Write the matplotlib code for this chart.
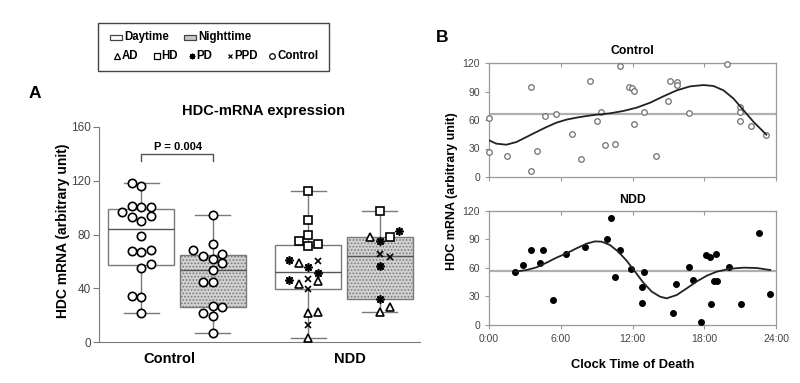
import matplotlib
matplotlib.use('Agg')
import matplotlib.pyplot as plt
from matplotlib.patches import Rectangle

plt.rcParams['font.family'] = ['Liberation Sans Narrow', 'Liberation Sans', 'DejaVu Sans']
plt.rcParams['hatch.color'] = '#8c8c8c'
plt.rcParams['hatch.linewidth'] = 0.8

# ---- panel A: box statistics (Control day, Control night, NDD day, NDD night)
box_lo = [22, 6.7, 3.2, 22.3]
box_q1 = [57.4, 26.0, 39.6, 31.9]
box_med = [83.8, 53.4, 52.4, 64.3]
box_q3 = [98.9, 65.0, 72.2, 78.4]
box_hi = [118, 94.2, 112.5, 97.4]

# individual cases, slot = column inside the box
ctrl_day_val = [118.5, 116.2, 96.4, 100.9, 100.2, 100.2, 93, 89.8, 93.7, 79.1,
                68, 67, 68.5, 58.4, 55.4, 34.4, 33.9, 22]
ctrl_day_slot = [-1, 0, -2, -1, 0, 1, -1, 0, 1, 0, -1, 0, 1, 1, 0, -1, 0, 0]

ctrl_night_val = [94.2, 68.3, 64.3, 72.7, 61.8, 65.5, 58.9, 53.4, 44.5, 44.5,
                  21.8, 27.2, 26.2, 19.5, 6.7]
ctrl_night_slot = [0, -2, -1, 0, 0, 1, 1, 0, -1, 0, -1, 0, 1, 0, 0]

ndd_day_val = [112.5, 90.8, 79.6, 74.9, 71.7, 73.2, 61.3, 58.6, 60.6, 55.9,
               51.2, 46.2, 43, 46.7, 45.7, 39.3, 22, 22.8, 12.9, 3.2]
ndd_day_slot = [0, 0, 0, -1, 0, 1, -2, -1, 1, 0, 1, -2, -1, 0, 1, 0, 0, 1, 0, 0]
ndd_day_kind = ['HD', 'HD', 'HD', 'HD', 'HD', 'HD', 'PD', 'AD', 'PPD', 'PD',
                'PD', 'PD', 'AD', 'PPD', 'AD', 'PPD', 'AD', 'AD', 'PPD', 'AD']

ndd_night_val = [97.4, 78.4, 78.4, 82.6, 75.2, 65.5, 63, 56.6, 31.9, 26.5, 22.3]
ndd_night_slot = [0, -1, 1, 2, 0, 0, 1, 0, 0, 1, 0]
ndd_night_kind = ['HD', 'AD', 'HD', 'PD', 'PD', 'PPD', 'PPD', 'PD', 'PD', 'AD', 'AD']

# ---- panel B: clock time of death (hours) vs HDC mRNA
ctrl_hour = [0.0, 0.0, 1.48, 3.49, 3.49, 4.0, 4.72, 5.64, 6.96, 7.66, 8.47, 9.0,
             9.36, 9.72, 10.5, 10.95, 11.7, 11.96, 12.1, 12.13, 12.96, 13.94,
             14.98, 15.12, 15.7, 15.7, 16.7, 19.92, 20.95, 20.95, 20.95, 21.9, 23.2]
ctrl_val = [62, 26, 21.8, 95, 6.3, 27, 64.6, 66, 45, 19.3, 101, 59,
            68.8, 34, 34.4, 117, 94.7, 93.7, 90.5, 55.8, 68, 21.8,
            79.6, 101.4, 100.4, 96.8, 67.4, 119.3, 73.7, 68.4, 59.3, 54, 44.6]
ctrl_mean = 66.7
ctrl_fit_hour = [0, 0.61, 1.45, 2.29, 3.13, 3.97, 4.81, 5.64, 6.48, 7.32, 8.16, 9.0,
                 10.11, 11.23, 12.35, 13.47, 14.58, 15.7, 16.82, 17.94, 18.77,
                 19.61, 20.45, 21.29, 22.13, 23.19]
ctrl_fit_val = [38.6, 35.1, 34.0, 36.8, 42.1, 47.4, 52.6, 57.2, 60.4, 62.5, 64.2, 65.6,
                67, 69.5, 73, 78.2, 84.9, 91.2, 95.4, 96.8, 95.8,
                91.2, 82.5, 70.2, 57.9, 44.6]

ndd_hour = [2.18, 2.82, 3.52, 4.25, 4.53, 5.36, 6.48, 7.99, 9.89, 10.17, 10.5, 10.95,
            11.85, 12.77, 12.8, 12.96, 15.37, 15.67, 16.7, 17.04, 17.74, 18.13,
            18.44, 18.58, 18.83, 19.0, 19.08, 20.03, 21.09, 22.55, 23.52]
ndd_val = [56, 62.6, 78.4, 65, 78.7, 26.6, 74.9, 82.2, 90.3, 112, 50.4, 79,
           58.4, 22.7, 39.5, 55.3, 12.9, 43, 61.2, 46.9, 3.5, 73.5,
           71.4, 21.7, 46.2, 74.9, 46.2, 60.5, 22.4, 96.9, 32.2]
ndd_mean = 56.7
ndd_fit_hour = [2.18, 3.13, 3.97, 4.81, 5.64, 6.48, 7.32, 8.16, 8.86, 9.42, 10.11,
                10.81, 11.51, 12.21, 12.91, 13.61, 14.31, 14.86, 15.7, 16.54,
                17.38, 18.22, 19.05, 20.17, 21.29, 22.41, 23.52]
ndd_fit_val = [56, 57.7, 60.5, 65.4, 70.7, 75.2, 80.5, 85.4, 87.8, 87.5, 84,
               77, 67.5, 56, 44.4, 35, 29.7, 28, 31.5, 38.5,
               45.8, 51.8, 56, 59.1, 60.2, 59.8, 57.7]

W, H = 800, 383
markers = {'AD': '^', 'HD': 's', 'PD': (8, 2, 0), 'PPD': 'x', 'Control': 'o'}
grey = '#7a7a7a'

fig = plt.figure(figsize=(W / 100, H / 100), dpi=100)

# ================= panel A =================
axA = fig.add_axes([99.3 / W, (H - 342.3) / H, 320.7 / W, 215.6 / H])
box_pos = [42, 113.3, 209, 280.4]
stats = [dict(med=m, q1=a, q3=b, whislo=lo, whishi=hi, fliers=[])
         for lo, a, m, b, hi in zip(box_lo, box_q1, box_med, box_q3, box_hi)]
bp = axA.bxp(stats, positions=box_pos, widths=66, capwidths=35, patch_artist=True,
             showfliers=False,
             whiskerprops=dict(color=grey, lw=1),
             capprops=dict(color=grey, lw=1),
             medianprops=dict(color='#555555', lw=1))
for i, box in enumerate(bp['boxes']):
    box.set_edgecolor(grey)
    box.set_linewidth(1)
    if i % 2:
        box.set_facecolor('#d2d2d2')
        box.set_hatch('.....')
    else:
        box.set_facecolor('white')

slot_w = 9.8


def draw_group(center, vals, slots, kinds):
    for v, s, k in zip(vals, slots, kinds):
        m = markers[k]
        size = {'Control': 6, 'AD': 5.5, 'HD': 5.5, 'PD': 6, 'PPD': 4}[k]
        axA.plot(center + s * slot_w, v, marker=m, ms=size,
                 mfc='black' if k == 'PD' else 'white', mec='black',
                 mew=1.2, ls='none', zorder=5)


draw_group(box_pos[0], ctrl_day_val, ctrl_day_slot, ['Control'] * len(ctrl_day_val))
draw_group(box_pos[1], ctrl_night_val, ctrl_night_slot, ['Control'] * len(ctrl_night_val))
draw_group(box_pos[2], ndd_day_val, ndd_day_slot, ndd_day_kind)
draw_group(box_pos[3], ndd_night_val, ndd_night_slot, ndd_night_kind)

# significance bracket
axA.plot([box_pos[0], box_pos[0], box_pos[1], box_pos[1]], [134.8, 139.7, 139.7, 134.8],
         color='#555555', lw=1, clip_on=False)

axA.set_xlim(0, 320.7)
axA.set_ylim(0, 160)
axA.set_yticks([0, 40, 80, 120, 160])
axA.set_xticks([])
for s in ['top', 'right']:
    axA.spines[s].set_visible(False)
for s in ['left', 'bottom']:
    axA.spines[s].set_color(grey)
axA.tick_params(axis='y', colors=grey, labelcolor='#444444', labelsize=8.5, length=4, pad=2)

# ================= panel B =================
def style_b(ax, labels):
    ax.set_xlim(0, 24)
    ax.set_ylim(0, 120)
    ax.set_xticks([0, 6, 12, 18, 24])
    ax.set_yticks([0, 30, 60, 90, 120])
    for s in ax.spines.values():
        s.set_color('#9a9a9a')
        s.set_linewidth(0.9)
    ax.tick_params(colors='#9a9a9a', labelcolor='#444444', labelsize=7.5, length=3)
    if labels:
        ax.set_xticklabels(['0:00', '6:00', '12:00', '18:00', '24:00'])
    else:
        ax.set_xticklabels([])
    top = ax.secondary_xaxis('top')
    top.set_xticks([6, 12, 18])
    top.set_xticklabels([])
    top.tick_params(direction='in', length=3, colors='#9a9a9a')
    top.spines['top'].set_color('#9a9a9a')


axC = fig.add_axes([489 / W, (H - 177) / H, 287 / W, 114 / H])
axC.axhline(ctrl_mean, color='#b0b0b0', lw=1.6, zorder=1)
axC.plot(ctrl_hour, ctrl_val, 'o', ms=4, mfc='white', mec='#707070', mew=0.9,
         clip_on=False, zorder=3)
axC.plot(ctrl_fit_hour, ctrl_fit_val, color='#222222', lw=1.3, zorder=4)
style_b(axC, False)

axN = fig.add_axes([489 / W, (H - 325) / H, 287 / W, 114.3 / H])
axN.axhline(ndd_mean, color='#b0b0b0', lw=1.6, zorder=1)
axN.plot(ndd_hour, ndd_val, 'o', ms=4, mfc='black', mec='black', clip_on=False, zorder=3)
axN.plot(ndd_fit_hour, ndd_fit_val, color='#222222', lw=1.3, zorder=4)
style_b(axN, True)

# ================= overlay: texts and legend =================
ov = fig.add_axes([0, 0, 1, 1], facecolor='none')
ov.set_xlim(0, W)
ov.set_ylim(H, 0)
ov.axis('off')

bold = dict(fontweight='bold', ha='center', va='center', color='black')
ov.text(35, 93, 'A', fontsize=12.5, **bold)
ov.text(441.7, 38, 'B', fontsize=12.5, **bold)
ov.text(264, 111, 'HDC-mRNA expression', fontsize=10.5, **bold)
ov.text(178, 146.5, 'P = 0.004', fontsize=8, **bold)
ov.text(63, 231, 'HDC mRNA (arbitrary unit)', fontsize=10, rotation=90, **bold)
ov.text(169, 359, 'Control', fontsize=10.5, **bold)
ov.text(350, 359, 'NDD', fontsize=10.5, **bold)
ov.text(632.7, 51.5, 'Control', fontsize=8.8, **bold)
ov.text(632.7, 200, 'NDD', fontsize=8.8, **bold)
ov.text(633, 365, 'Clock Time of Death', fontsize=9.3, **bold)
ov.text(452, 191, 'HDC mRNA (arbitrary unit)', fontsize=9, rotation=90, **bold)

# legend box
ov.add_patch(Rectangle((98.3, 23.3), 230.7, 47.4, fill=False, ec='#444444', lw=1))
ov.add_patch(Rectangle((110, 34.5), 12.3, 5.5, fc='white', ec='#444444', lw=0.9))
ov.add_patch(Rectangle((184.3, 34.5), 11.7, 5.5, fc='#c8c8c8', ec='#444444', lw=0.9))
leg = dict(fontweight='bold', ha='left', va='center', fontsize=8.3, color='black')
ov.text(124.3, 37.3, 'Daytime', **leg)
ov.text(198, 37.3, 'Nighttime', **leg)
leg_items = [('AD', 116.7, 121.7), ('HD', 156.7, 161), ('PD', 192.3, 196.5),
             ('PPD', 230, 234.5), ('Control', 271.7, 277.5)]
for name, mx, tx in leg_items:
    ov.plot(mx, 56, marker=markers[name], ms=4 if name != 'PPD' else 3.5,
            mfc='black' if name == 'PD' else 'white', mec='black', mew=0.9, ls='none')
    ov.text(tx, 56, name, **leg)

fig.savefig('out.png', dpi=100)
